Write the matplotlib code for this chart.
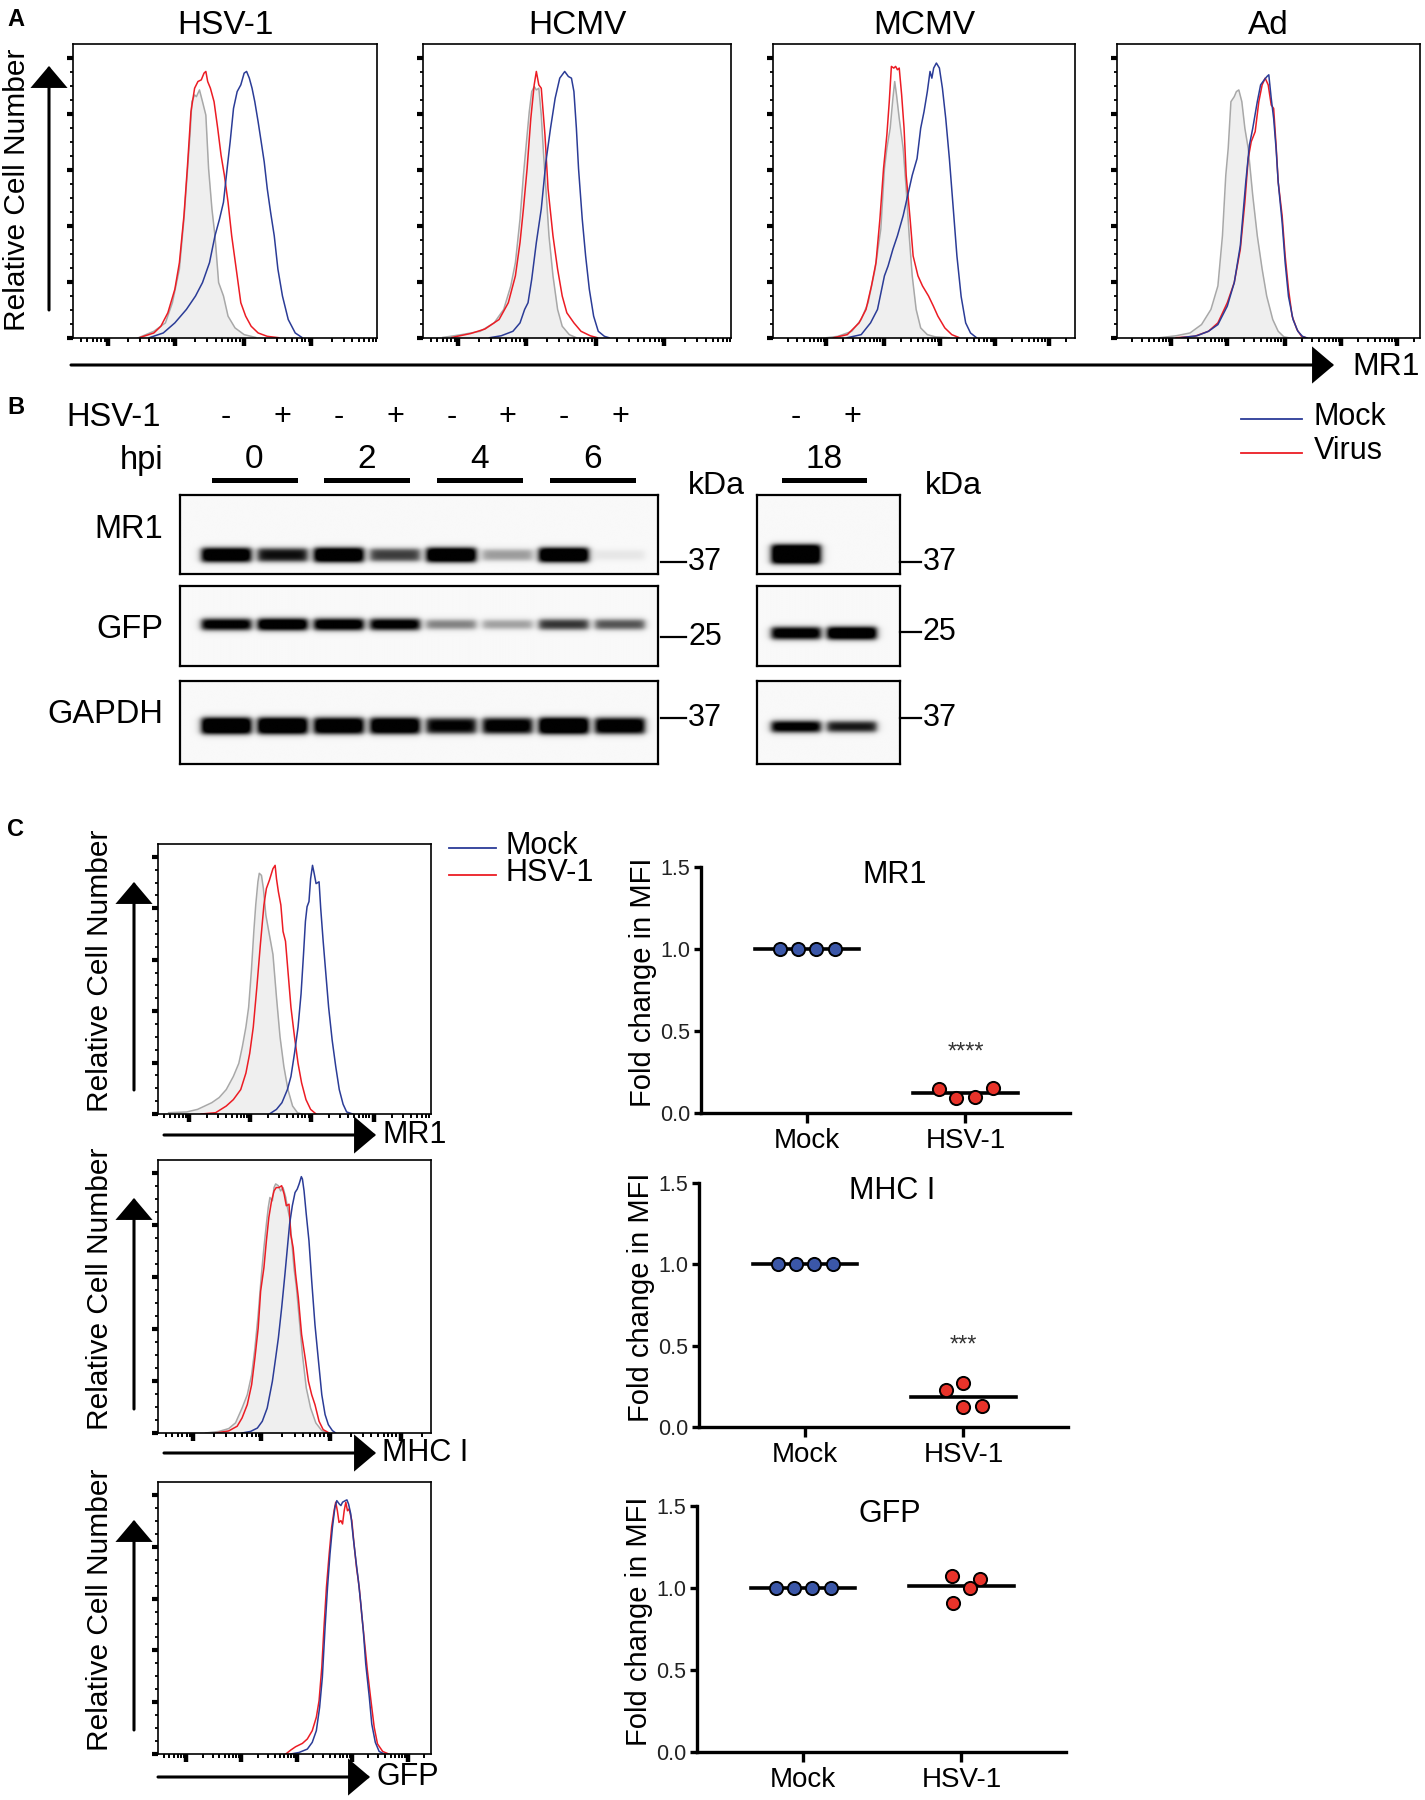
import numpy as np
import matplotlib
matplotlib.use('Agg')
import matplotlib.pyplot as plt
from matplotlib.patches import FancyArrowPatch
from matplotlib.lines import Line2D
from matplotlib.transforms import blended_transform_factory

plt.rcParams['font.family'] = ['Liberation Sans', 'DejaVu Sans']

# ---------------- data ----------------
# Panel A flow histograms: x = channel (0-1000 across plot), y = % of max
a_hsv1_iso_x = [213, 266, 304, 327, 350, 365, 373, 385, 391, 400, 406, 416, 426, 437, 446, 457, 467, 479, 495, 510, 533, 563, 601]
a_hsv1_iso_y = [0, 2.4, 5.4, 12.6, 24.6, 42.5, 54.5, 72.5, 84.4, 86.8, 86.2, 88.6, 84.4, 79.6, 60.5, 46.1, 36.5, 19.8, 15.0, 7.8, 3.6, 1.2, 0.2]
a_hsv1_virus_x = [221, 266, 289, 312, 335, 350, 365, 376, 388, 400, 411, 422, 431, 437, 443, 452, 464, 476, 487, 498, 510, 522, 537, 552, 568, 586, 609, 639, 677]
a_hsv1_virus_y = [0.2, 1.8, 4.2, 9.0, 17.4, 26.9, 43.7, 60.5, 80.8, 89.2, 91.6, 92.2, 94.6, 95.2, 91.6, 89.2, 84.4, 74.9, 65.3, 58.1, 48.5, 36.5, 24.6, 12.6, 7.8, 4.2, 1.8, 0.6, 0.1]
a_hsv1_mock_x = [251, 297, 335, 373, 403, 426, 449, 467, 482, 495, 507, 517, 528, 540, 552, 563, 571, 580, 589, 598, 609, 619, 629, 639, 650, 662, 674, 689, 708, 731, 753]
a_hsv1_mock_y = [0.1, 1.8, 5.4, 10.2, 15.0, 19.8, 26.9, 36.5, 42.5, 48.5, 60.5, 70.1, 82.0, 88.0, 90.4, 94.6, 95.2, 92.8, 89.2, 84.4, 77.2, 70.1, 62.9, 53.3, 44.9, 36.5, 24.6, 15.0, 6.6, 1.8, 0.2]

a_hcmv_iso_x = [64, 125, 186, 231, 262, 285, 300, 315, 326, 338, 345, 353, 361, 368, 376, 384, 391, 399, 409, 422, 437, 452, 475, 498]
a_hcmv_iso_y = [0.2, 1.2, 2.4, 5.4, 10.2, 18.6, 26.9, 42.5, 58.1, 72.5, 80.8, 88.0, 89.8, 88.6, 89.2, 79.6, 66.5, 53.3, 36.5, 22.2, 10.2, 4.2, 1.2, 0.1]
a_hcmv_virus_x = [94, 155, 201, 247, 277, 300, 315, 326, 338, 350, 361, 368, 376, 384, 396, 406, 422, 437, 452, 467, 490, 513, 543, 566]
a_hcmv_virus_y = [0.2, 1.6, 3.2, 6.6, 12.6, 22.2, 34.1, 46.1, 60.5, 78.4, 90.4, 95.2, 90.4, 89.2, 72.5, 53.3, 36.5, 24.6, 15.0, 9.0, 5.4, 2.4, 0.8, 0.1]
a_hcmv_mock_x = [216, 254, 292, 315, 330, 341, 353, 368, 384, 399, 414, 429, 444, 460, 472, 482, 490, 498, 505, 517, 528, 540, 554, 569, 589, 604]
a_hcmv_mock_y = [0.1, 0.8, 2.4, 5.4, 10.2, 12.6, 21.0, 34.1, 46.1, 62.9, 74.9, 85.6, 92.8, 95.2, 93.4, 92.8, 88.0, 74.9, 60.5, 42.5, 29.3, 17.4, 7.8, 2.4, 0.6, 0.1]

a_mcmv_iso_x = [177, 215, 261, 292, 315, 338, 357, 369, 377, 388, 397, 403, 409, 418, 431, 441, 451, 461, 474, 489, 511, 538, 584]
a_mcmv_iso_y = [0.1, 0.6, 2.4, 6.6, 12.6, 24.6, 38.9, 60.5, 67.7, 74.9, 85.6, 91.6, 86.8, 78.4, 67.7, 53.3, 36.5, 22.2, 10.2, 3.6, 1.2, 0.4, 0.1]
a_mcmv_virus_x = [200, 246, 285, 308, 326, 341, 354, 366, 377, 385, 392, 400, 406, 412, 418, 426, 434, 441, 454, 464, 480, 495, 515, 531, 546, 569, 592, 615]
a_mcmv_virus_y = [0.1, 1.2, 5.4, 10.2, 18.6, 26.9, 42.5, 60.5, 72.5, 84.4, 97.0, 96.4, 97.0, 95.8, 96.4, 86.8, 74.9, 58.1, 42.5, 29.3, 22.2, 18.6, 15.0, 11.4, 7.8, 3.6, 1.2, 0.2]
a_mcmv_mock_x = [246, 292, 323, 346, 369, 381, 397, 412, 431, 446, 461, 477, 489, 500, 511, 520, 526, 532, 541, 551, 561, 572, 584, 597, 609, 623, 638, 654, 674]
a_mcmv_mock_y = [0.1, 1.2, 5.4, 10.2, 22.2, 25.7, 31.7, 36.5, 43.7, 50.9, 58.1, 64.1, 74.9, 80.8, 88.0, 95.2, 92.8, 96.4, 98.2, 96.4, 89.2, 78.4, 64.1, 46.1, 29.3, 14.8, 5.4, 1.8, 0.1]

a_ad_iso_x = [141, 195, 241, 279, 310, 333, 348, 359, 367, 376, 387, 394, 402, 412, 422, 433, 448, 463, 479, 494, 514, 532, 551, 571]
a_ad_iso_y = [0.1, 0.8, 1.8, 4.8, 10.2, 18.6, 36.5, 58.1, 67.7, 84.4, 86.2, 88.0, 88.6, 84.4, 74.9, 67.7, 50.9, 36.5, 24.6, 15.0, 6.6, 2.4, 0.4, 0]
a_ad_virus_x = [195, 256, 302, 333, 364, 387, 407, 422, 433, 443, 456, 468, 479, 489, 499, 509, 517, 525, 532, 545, 555, 566, 578, 594, 609, 624]
a_ad_virus_y = [0.1, 0.6, 2.4, 5.4, 12.6, 19.8, 31.7, 48.5, 64.1, 70.1, 73.7, 84.4, 90.4, 92.8, 90.4, 83.2, 82.0, 68.9, 55.7, 43.7, 29.3, 17.4, 7.8, 3.0, 0.6, 0.1]
a_ad_mock_x = [210, 264, 302, 333, 364, 387, 407, 425, 437, 448, 463, 474, 486, 495, 501, 509, 517, 525, 532, 545, 555, 566, 581, 597, 612, 627]
a_ad_mock_y = [0.1, 0.8, 2.4, 4.8, 11.4, 19.8, 33.0, 55.7, 68.9, 74.9, 84.4, 90.4, 92.2, 93.4, 94.0, 85.6, 78.4, 67.7, 55.7, 41.3, 26.9, 14.8, 6.6, 2.4, 0.6, 0]

# Panel C flow histograms
c_mr1_iso_x = [39, 105, 145, 171, 197, 224, 250, 276, 296, 309, 322, 332, 342, 351, 358, 366, 371, 379, 386, 395, 408, 421, 434, 447, 461, 476, 493, 511, 526]
c_mr1_iso_y = [0.5, 0.8, 1.8, 3.1, 4.4, 6.4, 9.5, 14.6, 19.7, 26.2, 33.8, 41.5, 55.6, 71.0, 81.3, 90.3, 93.6, 92.8, 87.7, 77.4, 69.7, 62.1, 45.4, 30.0, 18.5, 9.5, 3.1, 0.5, 0]
c_mr1_virus_x = [158, 211, 250, 276, 303, 322, 336, 349, 362, 375, 388, 397, 408, 421, 429, 434, 441, 450, 458, 467, 476, 487, 500, 513, 526, 542, 559, 579]
c_mr1_virus_y = [0, 0.5, 3.1, 5.6, 9.5, 15.9, 23.6, 33.8, 49.2, 65.9, 81.3, 87.7, 90.9, 95.4, 96.7, 91.5, 86.4, 81.3, 71.0, 67.2, 55.6, 41.5, 30.0, 19.7, 12.1, 5.6, 1.8, 0]
c_mr1_mock_x = [408, 434, 454, 474, 487, 500, 513, 524, 533, 540, 546, 553, 559, 566, 572, 579, 590, 596, 605, 614, 625, 638, 651, 664, 678, 691, 713]
c_mr1_mock_y = [0, 1.8, 4.4, 9.5, 14.6, 23.6, 33.8, 46.7, 62.1, 74.9, 80.6, 82.6, 91.5, 96.7, 93.6, 89.6, 90.3, 80.0, 67.2, 55.6, 41.5, 28.7, 18.5, 9.5, 3.8, 0.8, 0]

c_mhc_iso_x = [174, 223, 259, 284, 308, 327, 343, 355, 367, 379, 388, 397, 404, 410, 419, 425, 431, 441, 449, 458, 468, 474, 482, 490, 498, 507, 517, 529, 543, 559, 578, 600, 621]
c_mhc_iso_y = [0, 0.6, 1.7, 3.9, 9.6, 14.7, 22.4, 32.6, 45.6, 61.1, 71.3, 80.3, 86.8, 90.6, 89.3, 94.4, 95.8, 95.1, 93.1, 94.4, 90.6, 86.8, 82.9, 73.9, 63.6, 55.9, 44.4, 30.2, 17.4, 9.6, 3.9, 0.9, 0]
c_mhc_virus_x = [211, 259, 290, 308, 327, 343, 355, 367, 376, 388, 397, 406, 416, 425, 433, 443, 453, 462, 470, 480, 486, 495, 504, 514, 526, 539, 551, 563, 575, 590, 605, 627]
c_mhc_virus_y = [0, 0.8, 2.6, 5.8, 10.9, 18.6, 28.9, 40.4, 54.6, 63.6, 73.9, 82.9, 89.3, 93.1, 94.4, 94.4, 95.1, 91.9, 87.4, 88.0, 76.5, 71.3, 61.1, 52.1, 37.9, 28.9, 19.9, 14.7, 10.9, 4.5, 1.3, 0]
c_mhc_mock_x = [308, 339, 364, 382, 400, 419, 431, 441, 453, 465, 474, 482, 492, 502, 510, 517, 525, 529, 535, 543, 553, 563, 575, 588, 600, 612, 624, 639, 651]
c_mhc_mock_y = [0, 0.6, 1.9, 4.5, 9.6, 19.9, 28.9, 36.6, 48.2, 61.1, 71.3, 80.3, 87.4, 92.5, 93.8, 95.8, 98.6, 97.7, 93.1, 84.2, 73.9, 58.5, 41.6, 27.5, 14.7, 7.1, 3.2, 0.9, 0]

c_gfp_virus_x = [468, 486, 504, 529, 547, 565, 580, 590, 600, 608, 617, 627, 636, 645, 651, 657, 663, 670, 676, 682, 688, 694, 700, 710, 718, 727, 737, 746, 756, 767, 780, 792, 804, 823, 845]
c_gfp_virus_y = [0, 1.5, 2.8, 4.1, 5.8, 9.0, 14.2, 20.6, 33.5, 48.9, 64.4, 77.2, 87.5, 93.9, 97.2, 93.9, 89.4, 90.1, 88.8, 93.9, 97.2, 93.9, 94.6, 90.1, 81.1, 72.1, 64.4, 54.1, 43.8, 32.2, 20.6, 10.3, 3.9, 1.0, 0]
c_gfp_mock_x = [486, 517, 547, 565, 580, 592, 602, 612, 621, 630, 639, 648, 655, 664, 670, 676, 686, 692, 698, 706, 715, 725, 734, 743, 752, 761, 774, 783, 796, 810, 829]
c_gfp_mock_y = [0, 0.6, 1.9, 4.5, 9.0, 18.0, 29.6, 48.9, 64.4, 77.2, 87.5, 95.2, 97.8, 96.5, 95.9, 97.2, 97.8, 98.1, 96.5, 92.7, 83.7, 74.6, 66.9, 57.9, 47.6, 34.7, 21.9, 11.6, 4.5, 1.0, 0]

# Panel B western blots: relative band intensity per lane
hsv_signs = ['-', '+', '-', '+', '-', '+', '-', '+']
hpi_groups = ['0', '2', '4', '6']
mr1_bands = [0.95, 0.75, 1.0, 0.6, 1.0, 0.3, 1.0, 0.06]
gfp_bands = [0.9, 1.0, 0.95, 0.9, 0.4, 0.3, 0.65, 0.55]
gapdh_bands = [1.0, 1.0, 0.95, 0.95, 0.8, 0.85, 1.0, 0.9]
hsv_signs_18 = ['-', '+']
mr1_bands_18 = [1.0, 0.0]
gfp_bands_18 = [0.9, 1.0]
gapdh_bands_18 = [0.9, 0.75]

# Panel C scatter: fold change in MFI
groups = ['Mock', 'HSV-1']
mr1_mock = [1.0, 1.0, 1.0, 1.0]
mr1_hsv = [0.148, 0.093, 0.10, 0.154]
mhc_mock = [1.0, 1.0, 1.0, 1.0]
mhc_hsv = [0.23, 0.27, 0.12, 0.13]
gfp_mock = [1.0, 1.0, 1.0, 1.0]
gfp_hsv = [1.075, 1.057, 1.0, 0.91]

# ---------------- figure ----------------
BLUE = '#2b3c97'
RED = '#ec1c24'
GRAY = '#a8a8a8'
FILL = '#efefef'

W, H = 1425, 1800
fig = plt.figure(figsize=(W / 100, H / 100), dpi=100)


def px_axes(x0, y0, x1, y1):
    return fig.add_axes([x0 / W, 1 - y1 / H, (x1 - x0) / W, (y1 - y0) / H])


def ftext(x, y, s, **kw):
    kw.setdefault('va', 'center')
    fig.text(x / W, 1 - y / H, s, **kw)


def farrow(x0, y0, x1, y1):
    fig.add_artist(FancyArrowPatch((x0 / W, 1 - y0 / H), (x1 / W, 1 - y1 / H),
                                   transform=fig.transFigure,
                                   arrowstyle='-|>,head_length=13,head_width=11',
                                   mutation_scale=1, lw=2.2, color='k',
                                   shrinkA=0, shrinkB=0, joinstyle='miter'))


def fline(x0, y0, x1, y1, lw=1.6, color='k'):
    fig.add_artist(Line2D([x0 / W, x1 / W], [1 - y0 / H, 1 - y1 / H], color=color, lw=lw,
                          transform=fig.transFigure))


def flow_hist(ax, majors, virus, mock, iso=None):
    if iso is not None:
        ax.fill_between(iso[0], iso[1], color=FILL, lw=0)
        ax.plot(iso[0], iso[1], color=GRAY, lw=1.1)
    ax.plot(virus[0], virus[1], color=RED, lw=1.1)
    ax.plot(mock[0], mock[1], color=BLUE, lw=1.1)
    ax.set_xlim(0, 1000)
    ax.set_ylim(0, 105)
    dec = (majors[-1] - majors[0]) / (len(majors) - 1)
    minors = [m + dec * np.log10(k) for m in [majors[0] - dec] + list(majors) for k in range(2, 10)]
    ax.set_xticks(majors)
    ax.set_xticks([v for v in minors if 0 < v < 1000], minor=True)
    ax.set_yticks(range(0, 101, 20))
    ax.set_yticks(range(0, 101, 5), minor=True)
    ax.tick_params(labelleft=False, labelbottom=False, direction='out')
    ax.tick_params(axis='x', which='major', length=6, width=3.2)
    ax.tick_params(axis='x', which='minor', length=2.8, width=1.4)
    ax.tick_params(axis='y', which='major', length=4.5, width=3.0)
    ax.tick_params(axis='y', which='minor', length=2.5, width=1.3)
    for s in ax.spines.values():
        s.set_linewidth(1.2)


# ---- Panel A ----
ftext(16, 20, 'A', fontsize=17, fontweight='bold', ha='center')
a_panels = [
    ('HSV-1', (73, 377), [114, 335, 563, 784],
     (a_hsv1_iso_x, a_hsv1_iso_y), (a_hsv1_virus_x, a_hsv1_virus_y), (a_hsv1_mock_x, a_hsv1_mock_y)),
    ('HCMV', (423, 731), [114, 335, 563, 784],
     (a_hcmv_iso_x, a_hcmv_iso_y), (a_hcmv_virus_x, a_hcmv_virus_y), (a_hcmv_mock_x, a_hcmv_mock_y)),
    ('MCMV', (773, 1075), [177, 369, 554, 735, 915],
     (a_mcmv_iso_x, a_mcmv_iso_y), (a_mcmv_virus_x, a_mcmv_virus_y), (a_mcmv_mock_x, a_mcmv_mock_y)),
    ('Ad', (1117, 1420), [179, 364, 555, 739, 923],
     (a_ad_iso_x, a_ad_iso_y), (a_ad_virus_x, a_ad_virus_y), (a_ad_mock_x, a_ad_mock_y)),
]
for title, (x0, x1), majors, iso, vir, mock in a_panels:
    ax = px_axes(x0, 44, x1, 338)
    flow_hist(ax, majors, vir, mock, iso)
    ftext((x0 + x1) / 2, 25, title, fontsize=24, ha='center')

ftext(17, 190, 'Relative Cell Number', fontsize=21.5, rotation=90, ha='center')
farrow(49, 310, 49, 66)
farrow(71, 365, 1334, 365)
ftext(1352, 367, 'MR1', fontsize=23, ha='left')

# ---- Panel B ----
ftext(16, 408, 'B', fontsize=17, fontweight='bold', ha='center')
rows_y = [(495, 574), (586, 666), (681, 764)]
left_rows = [(mr1_bands, 0.24, 14), (gfp_bands, 0.52, 11), (gapdh_bands, 0.46, 16)]
right_rows = [(mr1_bands_18, 0.25, 19), (gfp_bands_18, 0.41, 12), (gapdh_bands_18, 0.45, 11)]


def draw_blot(ax, bands, yb, h_px, box_h, xlim):
    xs = np.linspace(xlim[0], xlim[1], 700)
    ys = np.linspace(0, 1, 200)
    X, Y = np.meshgrid(xs, ys)
    dark = np.zeros_like(X)
    for i, v in enumerate(bands, start=1):
        hh = h_px / box_h / 2 * (0.65 + 0.35 * v)
        px = 0.5 * (np.tanh((X - (i - 0.44)) / 0.07) - np.tanh((X - (i + 0.44)) / 0.07))
        py = 0.5 * (np.tanh((Y - (yb - hh)) / 0.035) - np.tanh((Y - (yb + hh)) / 0.035))
        dark += v * px * py
    img = 0.975 - 0.97 * np.clip(dark * 1.3, 0, 1)
    ax.imshow(img, cmap='gray', vmin=0, vmax=1, extent=(xlim[0], xlim[1], 0, 1),
              origin='lower', aspect='auto', interpolation='bilinear')
    ax.set_xlim(*xlim)
    ax.set_ylim(0, 1)
    ax.set_xticks([])
    ax.set_yticks([])
    for s in ax.spines.values():
        s.set_linewidth(1.6)


left_axes = []
for (y0, y1), (bands, yb, hp) in zip(rows_y, left_rows):
    ax = px_axes(180, y0, 658, y1)
    draw_blot(ax, bands, yb, hp, y1 - y0, (0.18, 8.67))
    left_axes.append(ax)
right_axes = []
for (y0, y1), (bands, yb, hp) in zip(rows_y, right_rows):
    ax = px_axes(757, y0, 900, y1)
    draw_blot(ax, bands, yb, hp, y1 - y0, (0.30, 2.86))
    right_axes.append(ax)

tl = blended_transform_factory(left_axes[0].transData, fig.transFigure)
tr = blended_transform_factory(right_axes[0].transData, fig.transFigure)
for i, s in enumerate(hsv_signs, start=1):
    fig.text(i, 1 - 417 / H, s, transform=tl, fontsize=22, ha='center', va='center')
for i, s in enumerate(hsv_signs_18, start=1):
    fig.text(i, 1 - 417 / H, s, transform=tr, fontsize=22, ha='center', va='center')
for k, g in enumerate(hpi_groups):
    a, b = 2 * k + 1, 2 * k + 2
    fig.text((a + b) / 2, 1 - 460 / H, g, transform=tl, fontsize=24, ha='center', va='center')
    fig.add_artist(Line2D([a - 0.22, b + 0.22], [1 - 480 / H] * 2, transform=tl, color='k', lw=3.6))
fig.text(1.5, 1 - 460 / H, '18', transform=tr, fontsize=24, ha='center', va='center')
fig.add_artist(Line2D([1 - 0.22, 2 + 0.22], [1 - 480 / H] * 2, transform=tr, color='k', lw=3.6))

ftext(161, 417, 'HSV-1', fontsize=23.5, ha='right')
ftext(163, 460, 'hpi', fontsize=23.5, ha='right')
for label, yc in [('MR1', 529), ('GFP', 629), ('GAPDH', 715)]:
    ftext(163, yc, label, fontsize=23.5, ha='right')
ftext(716, 486, 'kDa', fontsize=23, ha='center')
ftext(953, 486, 'kDa', fontsize=23, ha='center')
for mk, yl, yr in [('37', 562, 562), ('25', 637, 632), ('37', 718, 718)]:
    fline(661, yl, 686, yl)
    ftext(688, yl, mk, fontsize=22, ha='left')
    fline(900, yr, 921, yr)
    ftext(923, yr, mk, fontsize=22, ha='left')

fline(1241, 419, 1302, 419, lw=1.3, color=BLUE)
fline(1241, 453, 1302, 453, lw=1.3, color=RED)
ftext(1314, 417, 'Mock', fontsize=22, ha='left')
ftext(1314, 451, 'Virus', fontsize=22, ha='left')

# ---- Panel C ----
ftext(16, 829, 'C', fontsize=17, fontweight='bold', ha='center')
c_boxes = [(844, 1114), (1160, 1433), (1482, 1754)]
c_panels = [
    ('MR1', [112, 336, 559, 790], (c_mr1_iso_x, c_mr1_iso_y),
     (c_mr1_virus_x, c_mr1_virus_y), (c_mr1_mock_x, c_mr1_mock_y), 1135, 164, 376),
    ('MHC I', [129, 379, 629, 890], (c_mhc_iso_x, c_mhc_iso_y),
     (c_mhc_virus_x, c_mhc_virus_y), (c_mhc_mock_x, c_mhc_mock_y), 1453, 164, 376),
    ('GFP', [103, 305, 508, 710, 914], None,
     (c_gfp_virus_x, c_gfp_virus_y), (c_gfp_mock_x, c_gfp_mock_y), 1777, 158, 370),
]
for (y0, y1), (lab, majors, iso, vir, mock, ya, xa0, xa1) in zip(c_boxes, c_panels):
    ax = px_axes(158, y0, 431, y1)
    flow_hist(ax, majors, vir, mock, iso)
    ftext(100, (y0 + y1) / 2 - 8, 'Relative Cell Number', fontsize=21.5, rotation=90, ha='center')
    farrow(134, y1 - 24, 134, y0 + 38)
    farrow(xa0, ya, xa1, ya)
    ftext(xa1 + 6, ya, lab, fontsize=22, ha='left')

fline(449, 848, 496, 848, lw=1.3, color=BLUE)
fline(449, 875, 496, 875, lw=1.3, color=RED)
ftext(505, 846, 'Mock', fontsize=22, ha='left')
ftext(505, 873, 'HSV-1', fontsize=22, ha='left')

spread = [-0.17, -0.057, 0.058, 0.175]
s_panels = [
    ('MR1', (701, 867, 1070, 1113), mr1_mock, mr1_hsv, spread, spread, '****', 0.37),
    ('MHC I', (699, 1183, 1068, 1427), mhc_mock, mhc_hsv, spread, [-0.11, 0.0, 0.0, 0.115], '***', 0.50),
    ('GFP', (697, 1506, 1066, 1752), gfp_mock, gfp_hsv, spread, [-0.06, 0.12, 0.055, -0.055], None, None),
]
for title, rect, mock, hsv, dxm, dxh, stars, sy in s_panels:
    ax = px_axes(*rect)
    for i, (vals, dx, col) in enumerate([(mock, dxm, '#3b57a8'), (hsv, dxh, '#e8332a')]):
        m = np.mean(vals)
        ax.plot([i - 0.33, i + 0.33], [m, m], color='k', lw=2.6, zorder=2)
        ax.scatter(i + np.array(dx), vals, s=90, facecolor=col, edgecolor='k', lw=1.4, zorder=3)
    ax.set_xlim(-0.67, 1.66)
    ax.set_ylim(0, 1.5)
    ax.spines[['top', 'right']].set_visible(False)
    ax.spines[['left', 'bottom']].set_linewidth(2.4)
    ax.spines['left'].set_capstyle('projecting')
    ax.set_yticks([0, 0.5, 1.0, 1.5], ['0.0', '0.5', '1.0', '1.5'], fontsize=15.5, color='#222222')
    ax.set_xticks([0, 1], groups, fontsize=20)
    ax.tick_params(axis='y', length=5, width=2.4, pad=3)
    ax.tick_params(axis='x', length=7, width=2.4, pad=4)
    ax.set_ylabel('Fold change in MFI', fontsize=21)
    ax.yaxis.set_label_coords(-0.12, 0.53)
    ax.text(0.55, 1.45, title, ha='center', va='center', fontsize=22)
    if stars:
        ax.text(1, sy, stars, ha='center', va='center', fontsize=17, color='#333333')

fig.savefig('out.png', dpi=100)
